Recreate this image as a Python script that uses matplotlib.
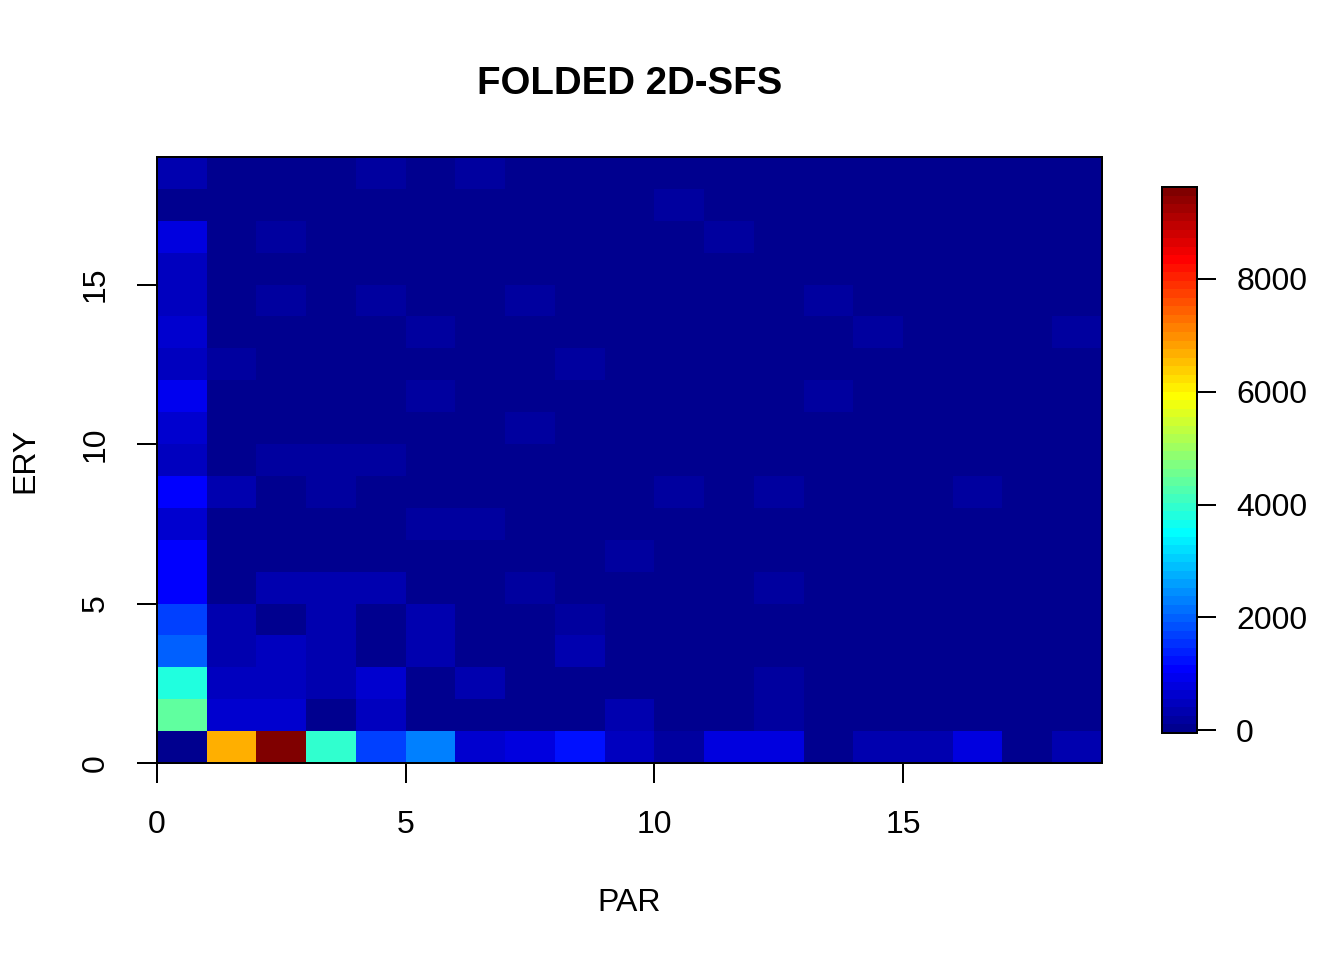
import numpy as np
import matplotlib
matplotlib.use("Agg")
import matplotlib.pyplot as plt
from matplotlib.colors import LinearSegmentedColormap, Normalize

plt.rcParams["font.family"] = ["Liberation Sans", "DejaVu Sans"]

# ---- folded 2D-SFS counts, one row per ERY class (0..18), columns = PAR class (0..18) ----
par_edges = np.arange(20)
ery_edges = np.arange(20)
sfs = np.array([
    [0, 6700, 9630, 3950, 1700, 2350, 650, 780, 1250, 480, 250, 780, 780, 60, 330, 330, 780, 60, 330],
    [4400, 680, 680, 10, 520, 60, 60, 60, 60, 330, 60, 60, 250, 60, 60, 60, 60, 60, 60],
    [3800, 520, 520, 330, 620, 60, 300, 60, 60, 60, 60, 60, 250, 60, 60, 60, 60, 60, 60],
    [2000, 330, 500, 330, 20, 330, 60, 60, 330, 60, 60, 60, 60, 60, 60, 60, 60, 60, 60],
    [1700, 330, 0, 330, 30, 330, 60, 60, 250, 60, 60, 60, 60, 60, 60, 60, 60, 60, 60],
    [1100, 60, 330, 330, 330, 60, 60, 250, 60, 60, 60, 60, 220, 60, 60, 60, 60, 60, 60],
    [1050, 60, 60, 60, 60, 60, 60, 60, 60, 220, 60, 60, 60, 60, 60, 60, 60, 60, 60],
    [650, 60, 60, 60, 60, 250, 250, 60, 60, 60, 60, 60, 60, 60, 60, 60, 60, 60, 60],
    [1150, 330, 0, 250, 60, 60, 60, 60, 60, 60, 220, 60, 220, 60, 60, 60, 220, 60, 60],
    [520, 40, 250, 250, 250, 60, 60, 60, 60, 60, 60, 60, 60, 60, 60, 60, 60, 60, 60],
    [600, 60, 60, 60, 60, 60, 60, 220, 60, 60, 60, 60, 60, 60, 60, 60, 60, 60, 60],
    [880, 60, 60, 60, 60, 220, 60, 60, 60, 60, 60, 60, 60, 250, 60, 60, 60, 60, 60],
    [500, 250, 60, 60, 60, 60, 60, 60, 250, 60, 60, 60, 60, 60, 60, 60, 60, 60, 60],
    [620, 60, 60, 60, 60, 250, 60, 60, 60, 60, 60, 60, 60, 60, 220, 60, 60, 60, 220],
    [480, 60, 250, 60, 250, 60, 60, 250, 60, 60, 60, 60, 60, 250, 60, 60, 60, 60, 60],
    [470, 60, 60, 60, 60, 60, 60, 60, 60, 60, 60, 60, 60, 60, 60, 60, 60, 60, 60],
    [820, 60, 250, 60, 60, 60, 60, 60, 60, 60, 60, 220, 60, 60, 60, 60, 60, 60, 60],
    [0, 60, 60, 60, 60, 60, 60, 60, 60, 60, 220, 60, 60, 60, 60, 60, 60, 60, 60],
    [280, 60, 60, 60, 250, 60, 250, 60, 60, 60, 60, 60, 60, 60, 60, 60, 60, 60, 60],
])
z_range = (-50, 9630)
axis_ticks = [0, 5, 10, 15]
bar_ticks = [0, 2000, 4000, 6000, 8000]

# tim.colors(64)-like palette
anchors = [(0, "#00008F"), (7 / 63, "#0000FF"), (23 / 63, "#00FFFF"),
           (39 / 63, "#FFFF00"), (55 / 63, "#FF0000"), (1, "#800000")]
cmap = LinearSegmentedColormap.from_list("tim", anchors).resampled(64)
norm = Normalize(*z_range)

fig = plt.figure(figsize=(7, 5), dpi=192)
ax = fig.add_axes([0.1168, 0.2052, 0.7031, 0.6313])
ax.pcolormesh(par_edges, ery_edges, sfs, cmap=cmap, norm=norm)
ax.set_xlim(0, 19)
ax.set_ylim(0, 19)
ax.set_xticks(axis_ticks)
ax.set_yticks(axis_ticks)
ax.tick_params(length=7.5, width=0.75, pad=10, labelsize=12)
for lab in ax.get_yticklabels():
    lab.set_rotation(90)
    lab.set_va("center")
for s in ax.spines.values():
    s.set_linewidth(0.75)
ax.set_xlabel("PAR", fontsize=12, labelpad=18)
ax.set_ylabel("ERY", fontsize=12, labelpad=15)
ax.set_title("FOLDED 2D-SFS", fontsize=14.4, fontweight="bold", pad=23.6)

cax = fig.add_axes([0.8646, 0.2365, 0.026, 0.5687])
cb = fig.colorbar(plt.cm.ScalarMappable(norm=norm, cmap=cmap), cax=cax)
cb.set_ticks(bar_ticks)
cb.ax.tick_params(length=7.2, width=0.75, pad=7.5, labelsize=12)
cb.outline.set_linewidth(0.75)

fig.savefig("out.png", dpi=192)
